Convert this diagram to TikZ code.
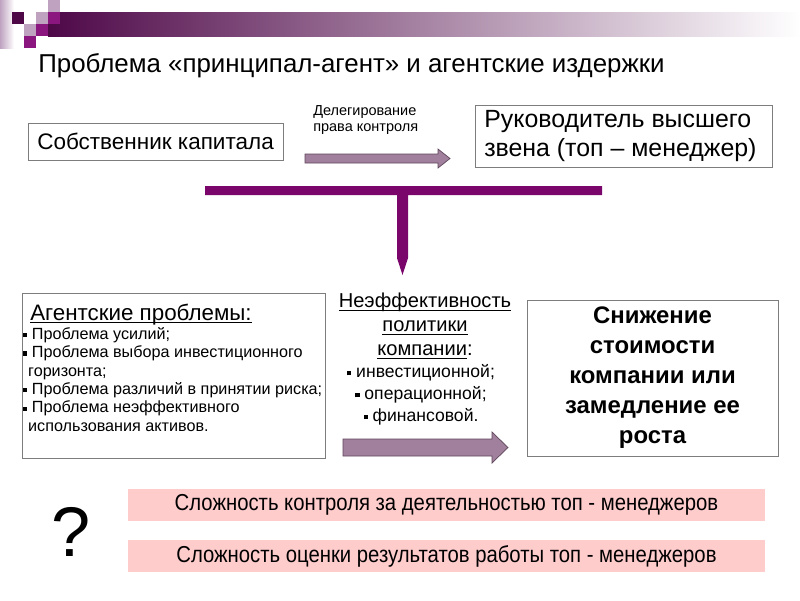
\documentclass[tikz,border=0pt]{standalone}
\usepackage{fontspec}
\setmainfont{Liberation Sans}
\newfontfamily\narrowsans[FakeStretch=0.88]{Liberation Sans}
\usetikzlibrary{calc}
\definecolor{darkplum}{RGB}{78,8,72}
\definecolor{plum}{RGB}{140,22,128}
\definecolor{mauve}{RGB}{190,162,192}
\definecolor{barpurple}{RGB}{122,6,108}
\definecolor{arrowfill}{RGB}{160,128,156}
\definecolor{arrowedge}{RGB}{95,70,92}
\definecolor{boxgray}{RGB}{125,125,125}
\definecolor{pinkfill}{RGB}{255,204,204}

\newcommand\pxu{0.025cm}
\newcommand\sqbullet{\rule[0.25ex]{3pt}{3pt}}
\newcommand\ulined[1]{\setbox0\hbox{#1}\rlap{\rule[-2pt]{\wd0}{0.7pt}}\box0}

\begin{document}
\begin{tikzpicture}[%
  x=0.025cm, y=-0.025cm,
  box/.style={draw=boxgray, line width=0.6pt, fill=white, inner sep=0pt},
  pinkbar/.style={fill=pinkfill, inner sep=0pt, minimum width=637*\pxu,
    minimum height=32*\pxu, font=\narrowsans\fontsize{16.4}{19}\selectfont},
  blockarrow/.style={fill=arrowfill, draw=arrowedge, line width=0.5pt},
]

  \useasboundingbox (0,0) rectangle (800,600);

  % header band
  \shade[left color=darkplum, right color=white] (48,12) rectangle (800,36);
  \shade[left color=mauve, right color=white] (0,0) rectangle (14,48);
  \foreach \x/\y/\c in {48/0/mauve, 12/12/darkplum, 36/12/mauve, 48/12/plum,
                        24/24/mauve, 36/24/plum, 24/36/plum}
    \fill[\c] (\x,\y) rectangle ++(12,12);

  \node[anchor=base west, inner sep=0, font=\fontsize{18.4}{22}\selectfont]
    (title) at (38,72) {Проблема «принципал-агент» и агентские издержки};

  % top row
  \node[box, minimum width=255*\pxu, minimum height=37*\pxu,
    font=\fontsize{16}{19}\selectfont] (owner) at (155.5,141.5)
    {Собственник капитала};
  \node[box, minimum width=297*\pxu, minimum height=62*\pxu]
    (topmgr) at (623.5,136) {};
  \node[anchor=west, align=left, inner sep=0,
    font=\fontsize{17.7}{20.6}\selectfont] (topmgrtext) at (484,136)
    {Руководитель высшего\\звена (топ – менеджер)};
  \node[anchor=west, align=left, inner sep=0,
    font=\fontsize{10.3}{11.5}\selectfont] (deleg) at (313,120)
    {Делегирование\\права контроля};

  % bracket down
  \coordinate (tip) at (402.5,275);
  \fill[barpurple] (205,186) -- (602,186) -- (602,195) -- (408,195)
    -- (408,258) -- (tip) -- (397,258) -- (397,195) -- (205,195) -- cycle;

  % bottom row
  \node[box, minimum width=303*\pxu, minimum height=165*\pxu]
    (agentbox) at (173.5,375.5) {};
  \node[anchor=base west, inner sep=0, font=\fontsize{15.9}{19}\selectfont]
    (agenthead) at (30,320) {\ulined{Агентские проблемы:}};
  \node[anchor=north west, align=left, inner sep=0,
    font=\fontsize{11.5}{13.1}\selectfont] (agentlist) at (23,327)
    {\sqbullet{} Проблема усилий;\\
     \sqbullet{} Проблема выбора инвестиционного\\
     \hspace*{3.5pt}горизонта;\\
     \sqbullet{} Проблема различий в принятии риска;\\
     \sqbullet{} Проблема неэффективного\\
     \hspace*{3.5pt}использования активов.};

  \node[align=center, inner sep=0, font=\fontsize{14.3}{17}\selectfont]
    (midhead) at (425,326)
    {\ulined{Неэффективность}\\ \ulined{политики}\\ \ulined{компании}:};
  \node[align=center, inner sep=0, font=\fontsize{12.5}{15.6}\selectfont]
    (midlist) at (421,395)
    {\sqbullet{} инвестиционной;\\ \sqbullet{} операционной;\\
     \sqbullet{} финансовой.};

  \node[box, minimum width=251*\pxu, minimum height=156*\pxu, align=center,
    font=\bfseries\fontsize{17}{21.3}\selectfont] (value) at (652.5,378)
    {Снижение\\стоимости\\компании или\\замедление ее\\роста};

  % block arrows
  \coordinate (delegfrom) at (305,158.5);
  \coordinate (delegto) at (450,158.5);
  \coordinate (policyfrom) at (343,447.5);
  \coordinate (policyto) at (508,447.5);
  \foreach \a/\b/\w/\h/\l in {delegfrom/delegto/4.5/9.5/12,
                              policyfrom/policyto/8.5/15.5/16}
    \draw[blockarrow] ($(\a)+(0,-\w)$) -- ($(\b)+(-\l,-\w)$)
      -- ($(\b)+(-\l,-\h)$) -- (\b) -- ($(\b)+(-\l,\h)$)
      -- ($(\b)+(-\l,\w)$) -- ($(\a)+(0,\w)$) -- cycle;

  % open questions
  \node[inner sep=0, font=\fontsize{50}{60}\selectfont] (quest) at (71,532) {?};
  \node[pinkbar] (control) at (446.5,505)
    {Сложность контроля за деятельностью топ - менеджеров};
  \node[pinkbar] (assess) at (446.5,556)
    {Сложность оценки результатов работы топ - менеджеров};

\end{tikzpicture}
\end{document}
